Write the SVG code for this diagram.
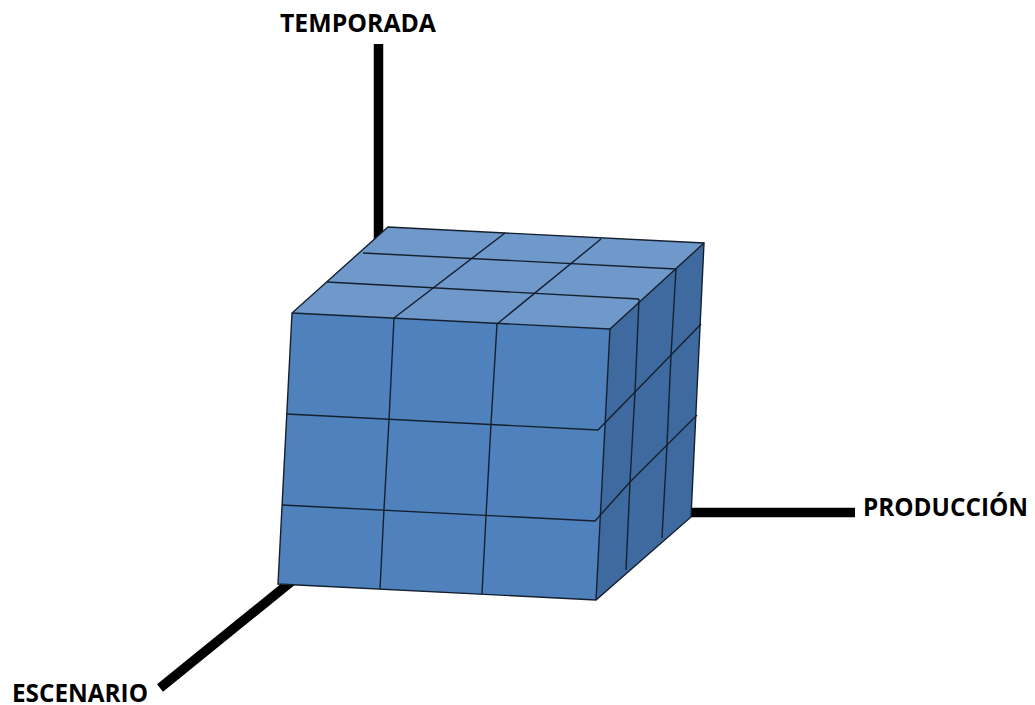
<svg xmlns="http://www.w3.org/2000/svg" width="1035" height="705" viewBox="0 0 1035 705">
<style>
.axis{stroke:#000;stroke-width:9.500;fill:none}
.grid{stroke:#14202e;stroke-width:1.4;fill:none}
.lbl{font-family:"Open Sans","Liberation Sans",sans-serif;font-weight:700;font-size:24.500px;fill:#000}
</style>
<rect width="1035" height="705" fill="#fff"/>
<g id="axes">
<path class="axis" d="M378.500 44V240"/>
<path class="axis" d="M690 512.500H855"/>
<path class="axis" d="M292 581L160 688"/>
</g>
<g id="cube">
<polygon points="388,227 704,243 610,329 292,313" fill="#6f98cb"/>
<polygon points="292,313 610,329 596,600 278,584" fill="#4f81bd"/>
<polygon points="610,329 704,243 691,517 596,600" fill="#3f6a9f"/>
<g class="grid">
<polygon points="388,227 704,243 691,517 596,600 278,584 292,313"/>
<path d="M292,313L610,329L704,243M610,329L596,600"/>
<path d="M287,414L598,430L635,392L671,355L701,324"/>
<path d="M282,505L595,521L630,482L667,445L697,415"/>
<path d="M394,318L389,420L384,509L380,589"/>
<path d="M497,324L491,424L486,516L482,594"/>
<path d="M639,299L635,392L630,482L626,570"/>
<path d="M676,269L671,355L667,445L662,538"/>
<path d="M363,253L676,269M327,282L639,299"/>
<path d="M394,318L505,233M497,324L601,239"/>
</g>
</g>
<g id="labels">
<text class="lbl" x="280" y="32" textLength="156" lengthAdjust="spacingAndGlyphs">TEMPORADA</text>
<text class="lbl" x="863" y="516" textLength="165" lengthAdjust="spacingAndGlyphs">PRODUCCIÓN</text>
<text class="lbl" x="12" y="702" textLength="136" lengthAdjust="spacingAndGlyphs">ESCENARIO</text>
</g>
</svg>
